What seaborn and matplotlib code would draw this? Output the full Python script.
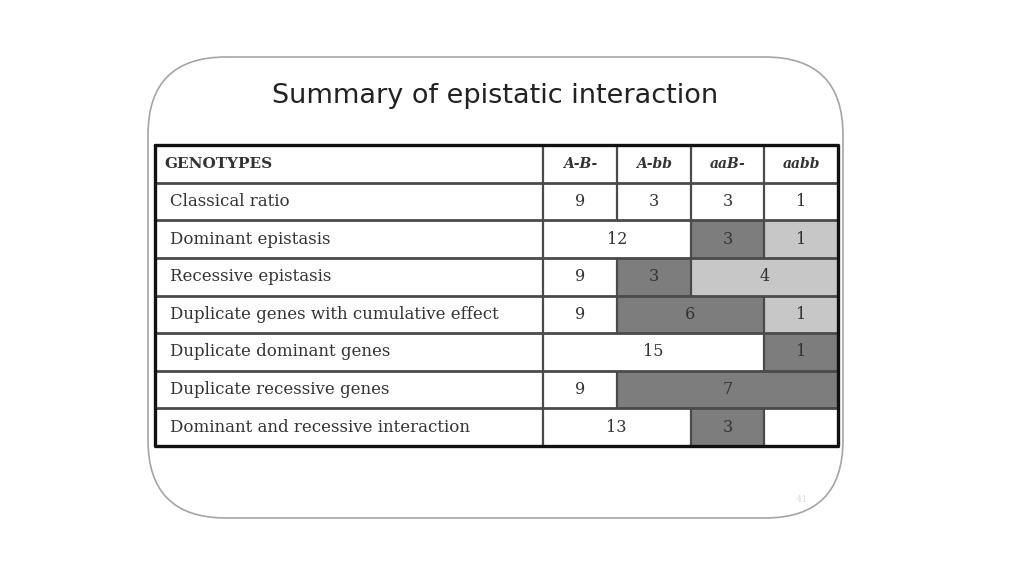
import numpy as np
import seaborn as sns
import matplotlib.pyplot as plt
from matplotlib.colors import ListedColormap
from matplotlib.patches import FancyBboxPatch

# table contents
genotypes = ["A-B-", "A-bb", "aaB-", "aabb"]
interactions = [
    "Classical ratio",
    "Dominant epistasis",
    "Recessive epistasis",
    "Duplicate genes with cumulative effect",
    "Duplicate dominant genes",
    "Duplicate recessive genes",
    "Dominant and recessive interaction",
]
# how many genotype columns each ratio class covers
spans = [[1, 1, 1, 1], [2, 1, 1], [1, 1, 2], [1, 2, 1], [3, 1], [1, 3], [2, 1, 1]]
ratios = [["9", "3", "3", "1"], ["12", "3", "1"], ["9", "3", "4"], ["9", "6", "1"],
          ["15", "1"], ["9", "7"], ["13", "3", ""]]
# 0 = white, 1 = light grey, 2 = dark grey
shades = [[0, 0, 0, 0], [0, 2, 1], [0, 2, 1], [0, 2, 1], [0, 2], [0, 2], [0, 2, 0]]

# expand the merged cells into a 7x4 grid for the heatmap
grid = np.zeros((len(interactions), len(genotypes)))
for r, (sp, sh) in enumerate(zip(spans, shades)):
    c = 0
    for n, s in zip(sp, sh):
        grid[r, c:c + n] = s
        c += n

sns.set_theme(style="white")
plt.rcParams['font.family'] = ['DejaVu Serif', 'DejaVu Sans']

W, H = 1024, 576
fig = plt.figure(figsize=(W / 100, H / 100), dpi=100)
fig.patch.set_facecolor("white")

# background layer in pixel coordinates: rounded slide frame + title
bg = fig.add_axes([0, 0, 1, 1], zorder=0)
bg.set_xlim(0, W)
bg.set_ylim(H, 0)
bg.axis("off")
frame = FancyBboxPatch((148, 57), 695, 461, boxstyle="round,pad=0,rounding_size=78",
                       facecolor="white", edgecolor="#a5a5a5", lw=1.2)
bg.add_patch(frame)
bg.text(495, 96, "Summary of epistatic interaction", ha="center", va="center",
        fontsize=19.5, color="#222222", family=["DejaVu Sans"])
bg.text(802, 499, "41", ha="center", va="center", fontsize=7, color="#dddddd")

# table area
left, right, top, bottom = 155, 838, 145, 446
ax = fig.add_axes([left / W, 1 - bottom / H, (right - left) / W, (bottom - top) / H], zorder=1)
cmap = ListedColormap(["white", "#c7c7c7", "#7d7d7d"])
sns.heatmap(grid, cmap=cmap, vmin=-0.5, vmax=2.5, cbar=False, ax=ax,
            xticklabels=False, yticklabels=False)

cell = (right - 543) / 4
label_w = (543 - left) / cell
ax.set_xlim(-label_w, 4)
ax.set_ylim(len(interactions), -1)
ax.set_xticks([])
ax.set_yticks([])
for s in ax.spines.values():
    s.set_visible(False)

# header row
ax.text(-label_w + 0.13, -0.5, "GENOTYPES", ha="left", va="center",
        fontsize=11, fontweight="bold", color="#333333")
for i, g in enumerate(genotypes):
    ax.text(i + 0.5, -0.5, g, ha="center", va="center", fontsize=10,
            fontweight="bold", fontstyle="italic", color="#333333")

# rows
line_c = "#4a4a4a"
for r, name in enumerate(interactions):
    ax.text(-label_w + 0.2, r + 0.5, name, ha="left", va="center",
            fontsize=12, color="#333333")
    c = 0
    for n, val in zip(spans[r], ratios[r]):
        ax.text(c + n / 2, r + 0.5, val, ha="center", va="center",
                fontsize=11.5, color="#333333")
        c += n
        if c < 4:
            ax.plot([c, c], [r, r + 1], color=line_c, lw=1.6, solid_capstyle="butt")

for c in range(1, 4):
    ax.plot([c, c], [-1, 0], color=line_c, lw=1.6, solid_capstyle="butt")
ax.plot([0, 0], [-1, len(interactions)], color=line_c, lw=1.6)
for r in range(0, len(interactions)):
    ax.plot([-label_w, 4], [r, r], color=line_c, lw=2)

# outer border
ax.plot([-label_w, 4, 4, -label_w, -label_w],
        [-1, -1, len(interactions), len(interactions), -1],
        color="#111111", lw=2.4, clip_on=False)

fig.savefig("out.png", dpi=100, facecolor="white")
